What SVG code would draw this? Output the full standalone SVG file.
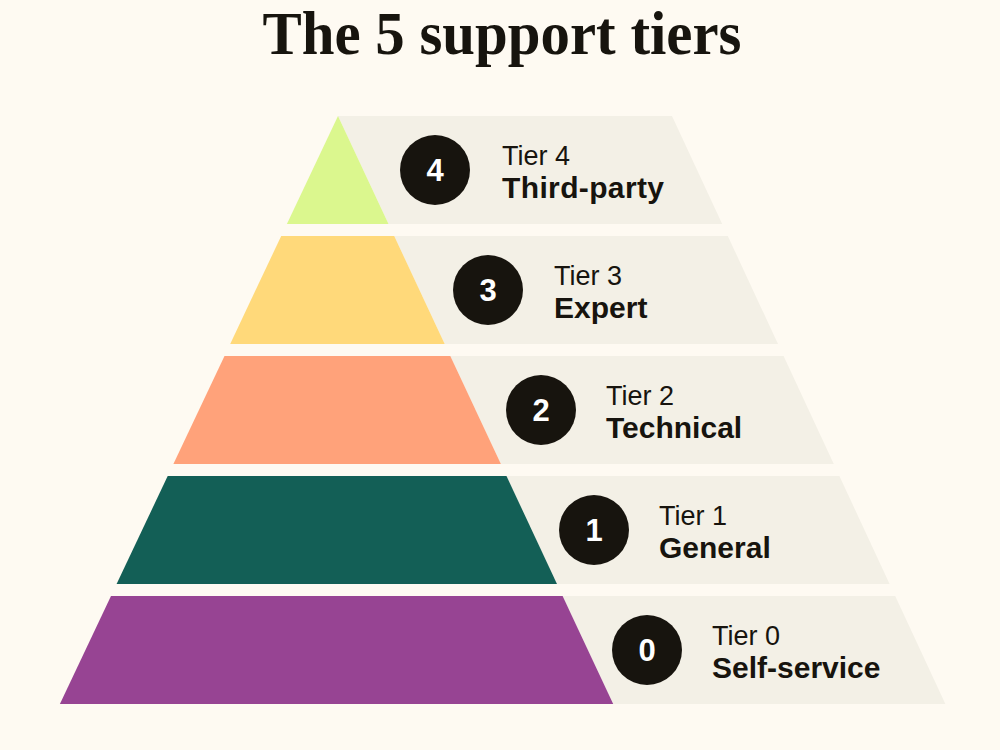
<svg xmlns="http://www.w3.org/2000/svg" width="1000" height="750" viewBox="0 0 1000 750">
<style>
.bg{fill:#FEFAF2}
.band{fill:#F3F0E6}
.title{font-family:"Liberation Serif","DejaVu Serif",serif;font-weight:bold;font-size:62px;fill:#17140E}
.tier{font-family:"Liberation Sans",Arial,sans-serif;font-size:27px;fill:#17140E}
.name{font-family:"Liberation Sans",Arial,sans-serif;font-weight:bold;font-size:30px;fill:#17140E}
.badge{fill:#17140E}
.num{font-family:"Liberation Sans",Arial,sans-serif;font-weight:bold;font-size:31px;fill:#FFFFFF;text-anchor:middle}
</style>
<rect class="bg" x="0" y="0" width="1000" height="750"/>
<text class="title" x="502" y="54" text-anchor="middle" textLength="479" lengthAdjust="spacingAndGlyphs">The 5 support tiers</text>
<g id="tier4">
<polygon class="band" points="338,116 672,116 722.2,224 388.5,224"/>
<polygon fill="#DBF78E" points="338,116 388.5,224 286.9,224"/>
<circle class="badge" cx="435" cy="170" r="35"/>
<text class="num" x="435" y="181">4</text>
<text class="tier" x="502" y="165">Tier 4</text>
<text class="name" x="502" y="198" textLength="162" lengthAdjust="spacing">Third-party</text>
</g>
<g id="tier3">
<polygon class="band" points="394.2,236 727.8,236 778,344 444.7,344"/>
<polygon fill="#FFD97A" points="281.2,236 394.2,236 444.7,344 230.2,344"/>
<circle class="badge" cx="488" cy="290" r="35"/>
<text class="num" x="488" y="301">3</text>
<text class="tier" x="554" y="285">Tier 3</text>
<text class="name" x="554" y="318">Expert</text>
</g>
<g id="tier2">
<polygon class="band" points="450.3,356 783.6,356 833.8,464 500.9,464"/>
<polygon fill="#FFA27A" points="224.5,356 450.3,356 500.9,464 173.4,464"/>
<circle class="badge" cx="541" cy="410" r="35"/>
<text class="num" x="541" y="421">2</text>
<text class="tier" x="606" y="405">Tier 2</text>
<text class="name" x="606" y="438">Technical</text>
</g>
<g id="tier1">
<polygon class="band" points="506.5,476 839.4,476 889.6,584 557,584"/>
<polygon fill="#135F56" points="167.7,476 506.5,476 557,584 116.6,584"/>
<circle class="badge" cx="594" cy="530" r="35"/>
<text class="num" x="594" y="541">1</text>
<text class="tier" x="659" y="525">Tier 1</text>
<text class="name" x="659" y="558">General</text>
</g>
<g id="tier0">
<polygon class="band" points="562.6,596 895.2,596 945.4,704 613.2,704"/>
<polygon fill="#974493" points="111,596 562.6,596 613.2,704 59.9,704"/>
<circle class="badge" cx="647" cy="650" r="35"/>
<text class="num" x="647" y="661">0</text>
<text class="tier" x="712" y="645">Tier 0</text>
<text class="name" x="712" y="678">Self-service</text>
</g>
<g id="connectors"/>
</svg>
